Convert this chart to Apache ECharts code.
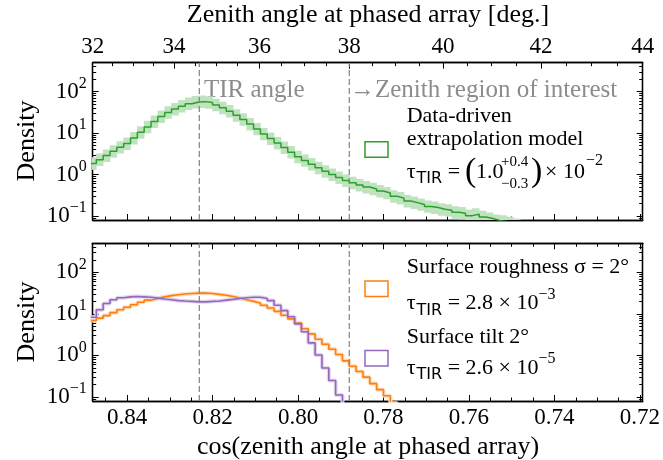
<!DOCTYPE html>
<html><head><meta charset="utf-8">
<script src="https://cdn.jsdelivr.net/npm/echarts@6/dist/echarts.min.js"></script>
<style>html,body{margin:0;padding:0;background:#fff}#c{width:663px;height:460px}</style>
</head><body><div id="c"></div>
<script>
// ---------------- data ----------------
const binStart = 0.8488;   // first bin edge (cos)
const binWidth = 0.0016;   // bin width (cos)
const greenDensity = [1.86,2.29,2.88,3.63,4.57,5.62,7.59,10.5,14.1,19.1,25.1,31.6,38.0,44.7,51.3,56.2,57.5,55.0,47.9,40.7,33.9,26.9,21.4,16.6,12.6,9.55,7.41,5.75,4.47,3.47,2.69,2.19,1.78,1.45,1.20,1.00,0.85,0.72,0.63,0.56,0.50,0.45,0.40,0.36,0.30,0.27,0.23,0.21,0.19,0.17,0.16,0.145,0.138,0.123,0.117,0.102,0.11,0.095,0.087,0.078,0.074,0.068,0.062,0.056];
const bandUp = 1.4, bandDown = 0.7;
const orangeDensity = [6.9,7.9,9.1,10.7,12.6,14.5,16.6,19.1,21.4,23.4,25.7,27.5,28.8,30.2,30.9,31.6,31.6,30.9,29.5,28.2,26.3,24.0,21.9,20.0,18.2,16.2,13.8,11.5,9.3,7.6,6.0,4.4,3.3,2.45,1.86,1.41,1.05,0.74,0.55,0.41,0.30,0.21,0.15,0.107,0.071,0.05,0.03];
const purpleDensity = [8.3,12.6,17.8,21.9,24.5,25.7,26.3,25.7,25.1,24.0,22.9,21.9,20.9,20.4,20.0,19.5,19.5,20.0,20.4,21.4,22.4,23.4,24.5,25.1,25.1,23.4,20.9,16.2,12.0,8.5,5.75,3.7,2.0,1.02,0.50,0.25,0.112,0.04,0.01];
const cosTicks = [0.84,0.82,0.80,0.78,0.76,0.74,0.72];
const cosMinorTicks = [0.845,0.835,0.83,0.825,0.815,0.81,0.805,0.795,0.79,0.785,0.775,0.77,0.765,0.755,0.75,0.745,0.735,0.73,0.725];
const degTicks = [32,34,36,38,40,42,44];
const degMinorTicks = [32.5,33,33.5,34.5,35,35.5,36.5,37,37.5,38.5,39,39.5,40.5,41,41.5,42.5,43,43.5];
const yTicks = [0.1,1,10,100];
const yMinorTicks = [0.09,0.2,0.3,0.4,0.5,0.6,0.7,0.8,0.9,2,3,4,5,6,7,8,9,20,30,40,50,60,70,80,90,200,300,400];
const yMin = 0.08, yMax = 500;
const tirCos = 0.8231;
const roiDeg = 38;

// ---------------- helpers ----------------
const D2R = Math.PI / 180;
const cosMin = Math.cos(44 * D2R), cosMax = Math.cos(32 * D2R);
const SERIF = "'Liberation Serif','Times New Roman',serif";
const edge = i => binStart - i * binWidth;
function stepData(vals) {
  const d = vals.map((v, i) => [edge(i), v]);
  d.push([edge(vals.length), vals[vals.length - 1]]);
  return d;
}
const supFmt = e => (e < 0 ? '\u2212' + (-e) : '' + e);

function xAx(gridIndex, position, ticks, len, label) {
  return {
    type: 'value', gridIndex, position, min: cosMin, max: cosMax, inverse: true,
    axisLine: { show: true, onZero: false, lineStyle: { color: '#000', width: 1.3 } },
    axisTick: { show: true, inside: true, length: len, customValues: ticks, lineStyle: { color: '#000', width: 1 } },
    axisLabel: label ? Object.assign({ show: true, customValues: ticks }, label) : { show: false },
    splitLine: { show: false }, minorTick: { show: false }
  };
}
function yAx(gridIndex, position, ticks, len, label) {
  return {
    type: 'log', logBase: 10, gridIndex, position, min: yMin, max: yMax,
    axisLine: { show: true, onZero: false, lineStyle: { color: '#000', width: 1.3 } },
    axisTick: { show: true, inside: true, length: len, customValues: ticks, lineStyle: { color: '#000', width: 1 } },
    axisLabel: label ? Object.assign({ show: true, customValues: ticks }, label) : { show: false },
    splitLine: { show: false }, minorTick: { show: false }
  };
}
const cosLabel = { margin: 5, color: '#000', fontFamily: SERIF, fontSize: 23, formatter: v => v.toFixed(2) };
const degLabel = { margin: 4, color: '#000', fontFamily: SERIF, fontSize: 23,
  formatter: v => '' + Math.round(Math.acos(v) / D2R) };
const logLabel = { margin: 6, color: '#000', fontFamily: SERIF,
  formatter: v => '{b|10}{s|' + supFmt(Math.round(Math.log10(v))) + '}',
  rich: { b: { fontSize: 23, fontFamily: SERIF, color: '#000' },
          s: { fontSize: 16, fontFamily: SERIF, color: '#000', padding: [0, 0, 16, 0] } } };

const degTickCos = degTicks.map(d => Math.cos(d * D2R));
const degMinorCos = degMinorTicks.map(d => Math.cos(d * D2R));

const grids = [
  { left: 92.7, right: 20.3, top: 62.7, height: 157.3, outerBoundsMode: 'none', containLabel: false },
  { left: 92.7, right: 20.3, top: 243.3, height: 157.7, outerBoundsMode: 'none', containLabel: false }
];
const xAxes = [
  xAx(0, 'bottom', cosTicks, 6, null),
  xAx(0, 'bottom', cosMinorTicks, 3.5, null),
  xAx(0, 'top', degTickCos, 6, degLabel),
  xAx(0, 'top', degMinorCos, 3.5, null),
  xAx(1, 'bottom', cosTicks, 6, cosLabel),
  xAx(1, 'bottom', cosMinorTicks, 3.5, null),
  xAx(1, 'top', cosTicks, 6, null),
  xAx(1, 'top', cosMinorTicks, 3.5, null)
];
const yAxes = [
  yAx(0, 'left', yTicks, 6, logLabel),
  yAx(0, 'left', yMinorTicks, 3.5, null),
  yAx(0, 'right', yTicks, 6, null),
  yAx(0, 'right', yMinorTicks, 3.5, null),
  yAx(1, 'left', yTicks, 6, logLabel),
  yAx(1, 'left', yMinorTicks, 3.5, null),
  yAx(1, 'right', yTicks, 6, null),
  yAx(1, 'right', yMinorTicks, 3.5, null)
];

const vLineCos = [tirCos, Math.cos(roiDeg * D2R)];
function vLineSeries(axisIdx) {
  return vLineCos.map(c => ({
    type: 'line', xAxisIndex: axisIdx, yAxisIndex: axisIdx, data: [[c, yMin], [c, yMax]],
    symbol: 'none', silent: true, z: 4,
    lineStyle: { color: '#808080', type: [6, 3], width: 1.2 }
  }));
}

const bandData = greenDensity.map((v, i) => [edge(i), edge(i + 1), v * bandUp, v * bandDown]);

function stepSeries(vals, color, width, z) {
  return { type: 'line', xAxisIndex: 4, yAxisIndex: 4, data: stepData(vals), step: 'end', symbol: 'none', z,
    silent: true, lineStyle: { color, width } };
}

const series = [
  { type: 'custom', xAxisIndex: 0, yAxisIndex: 0, clip: true, silent: true, z: 1,
    data: bandData, encode: { x: [0, 1], y: [2, 3] },
    renderItem: (params, api) => {
      const p1 = api.coord([api.value(0), api.value(2)]);
      const p2 = api.coord([api.value(1), api.value(3)]);
      const x0 = Math.min(p1[0], p2[0]), y0 = Math.min(p1[1], p2[1]);
      return { type: 'rect', shape: { x: x0 - 0.3, y: y0, width: Math.abs(p2[0] - p1[0]) + 0.6, height: Math.abs(p2[1] - p1[1]) },
        style: { fill: '#bfe3bf' } };
    } },
  { type: 'line', xAxisIndex: 0, yAxisIndex: 0, data: stepData(greenDensity), step: 'end', symbol: 'none', z: 3,
    lineStyle: { color: '#2ca02c', width: 1.5 } },
  stepSeries(orangeDensity, '#ffdcbd', 4, 2),
  stepSeries(purpleDensity, '#e2d6ef', 4, 2),
  stepSeries(orangeDensity, '#ff7f0e', 1.6, 3),
  stepSeries(purpleDensity, '#9467bd', 1.6, 3)
].concat(vLineSeries(0), vLineSeries(4));

const T = (x, y, text, extra) => Object.assign({ type: 'text', x, y,
  style: Object.assign({ text, fill: '#000', font: '22px ' + SERIF, textAlign: 'left', textVerticalAlign: 'middle' }, extra || {}) });
const tauRich = {
  t: { fontSize: 22, fontFamily: SERIF, fill: '#000' },
  sub: { fontSize: 16, fontFamily: "'DejaVu Sans',sans-serif", fill: '#000', padding: [14, 0, 0, 1] },
  n: { fontSize: 22, fontFamily: SERIF, fill: '#000' },
  sup: { fontSize: 16, fontFamily: SERIF, fill: '#000', padding: [0, 0, 18, 0] }
};
const RT = (x, y, text) => ({ type: 'text', x, y, style: { text, rich: tauRich, textAlign: 'left', textVerticalAlign: 'middle', fill: '#000', font: '22px ' + SERIF } });
const box = (x, y, color) => ({ type: 'rect', shape: { x, y, width: 23, height: 15.5 }, style: { fill: 'none', stroke: color, lineWidth: 1.5 } });

const graphic = [
  T(368, 15, 'Zenith angle at phased array [deg.]', { font: '26px ' + SERIF, textAlign: 'center' }),
  T(368, 447, 'cos(zenith angle at phased array)', { font: '26px ' + SERIF, textAlign: 'center' }),
  { type: 'text', x: 27, y: 141, rotation: Math.PI / 2, style: { text: 'Density', font: '26px ' + SERIF, fill: '#000', textAlign: 'center', textVerticalAlign: 'middle' } },
  { type: 'text', x: 27, y: 322, rotation: Math.PI / 2, style: { text: 'Density', font: '26px ' + SERIF, fill: '#000', textAlign: 'center', textVerticalAlign: 'middle' } },
  T(204, 90, 'TIR angle', { font: '25px ' + SERIF, fill: '#8c8c8c' }),
  T(350, 90, '\u2192Zenith region of interest', { font: '25px ' + SERIF, fill: '#8c8c8c' }),
  box(365, 141.7, '#2ca02c'),
  T(406.7, 116.5, 'Data-driven'),
  T(406.7, 139.5, 'extrapolation model'),
  RT(406.7, 172, '{t|\u03c4}{sub|TIR}{n| = }'),
  T(465, 172, '(', { font: '34px ' + SERIF }),
  T(476, 172, '1.0'),
  T(501, 162, '+0.4', { font: '15px ' + SERIF }),
  T(501, 184, '\u22120.3', { font: '15px ' + SERIF }),
  T(531, 172, ')', { font: '34px ' + SERIF }),
  T(545, 172, '\u00d7 10'),
  T(586, 161, '\u22122', { font: '16px ' + SERIF }),
  box(365, 281, '#ff7f0e'),
  box(365, 350.5, '#9467bd'),
  T(406.7, 267.5, 'Surface roughness \u03c3 = 2\u00b0'),
  RT(406.7, 303.5, '{t|\u03c4}{sub|TIR}{n| = 2.8 \u00d7 10}{sup|\u22123}'),
  T(406.7, 337.5, 'Surface tilt 2\u00b0'),
  RT(406.7, 368, '{t|\u03c4}{sub|TIR}{n| = 2.6 \u00d7 10}{sup|\u22125}')
];

const chart = echarts.init(document.getElementById('c'), null, { renderer: 'canvas' });
chart.setOption({
  animation: false, backgroundColor: '#fff',
  grid: grids, xAxis: xAxes, yAxis: yAxes, series, graphic
});
</script></body></html>
